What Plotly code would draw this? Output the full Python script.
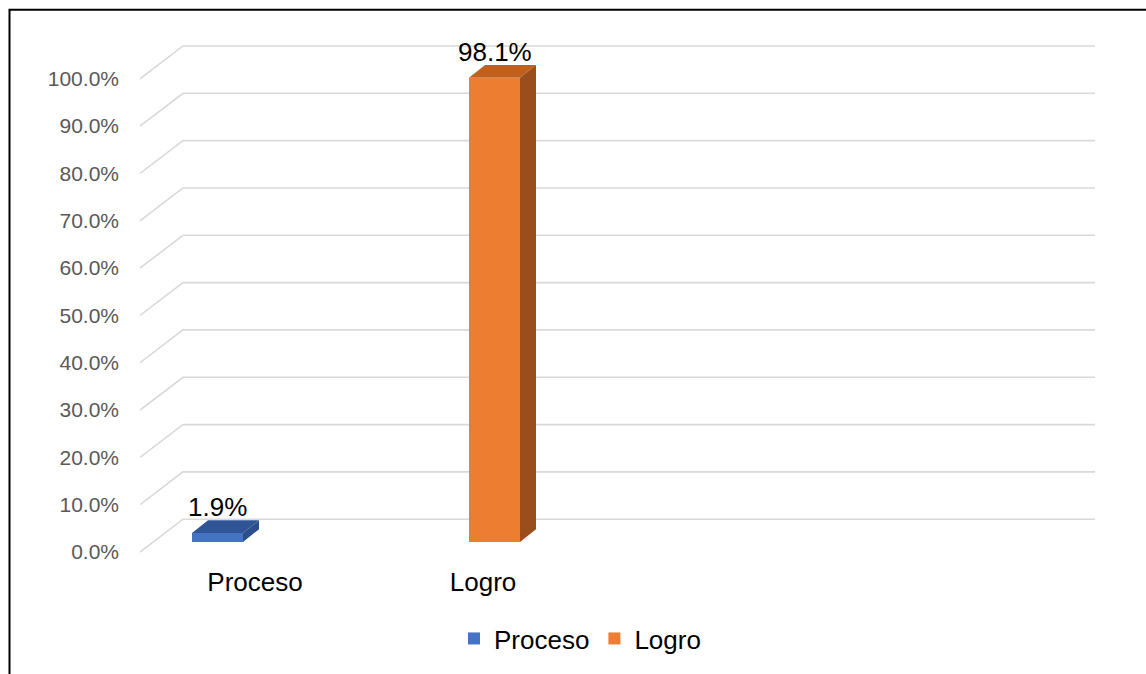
import plotly.graph_objects as go

# ---- data ----
categories = ["Proceso", "Logro"]
values = [1.9, 98.1]                      # percent
tick_values = [0, 10, 20, 30, 40, 50, 60, 70, 80, 90, 100]

# ---- styling ----
front_colors = ["#4472C4", "#ED7D31"]
top_colors = ["#2F5597", "#C0601F"]
side_colors = ["#2B4F8A", "#9A4E1C"]
grid_color = "#D9D9D9"

W, H = 1146, 674
PLOT_L, PLOT_R, PLOT_T, PLOT_B = 140, 1100, 40, 562   # plot area in pixels
PX_PER_PCT = 4.76                                      # vertical scale
FRONT_ZERO_PX = 555                                    # pixel row of 0% on the front plane

# floor depth (front edge -> back wall) in x units and percent units
DEPTH_X = 43
DEPTH_Y = 33 / PX_PER_PCT
# bars stand partway back on the floor and are shallower than the floor
BAR_BASE = 10 / PX_PER_PCT
BAR_SHIFT_X = 13
BAR_DEPTH_X = 16
BAR_DEPTH_Y = 13 / PX_PER_PCT
BAR_WIDTH = 51
FIRST_BAR_X = 204.5
BAR_SPACING = 277
GRID_RIGHT = 1095

y_min = (FRONT_ZERO_PX - PLOT_B) / PX_PER_PCT
y_max = (FRONT_ZERO_PX - PLOT_T) / PX_PER_PCT

fig = go.Figure()

# gridlines: diagonal on the side wall, then flat along the back wall
shapes = []
for v in tick_values:
    path = (f"M {PLOT_L},{v} L {PLOT_L + DEPTH_X},{v + DEPTH_Y} "
            f"L {GRID_RIGHT},{v + DEPTH_Y}")
    shapes.append(dict(type="path", path=path, xref="x", yref="y", layer="below",
                       line=dict(color=grid_color, width=1.6)))

# outer frame
shapes.append(dict(type="rect", xref="paper", yref="paper",
                   x0=(9.5 - PLOT_L) / (PLOT_R - PLOT_L), x1=1.3,
                   y0=-0.5, y1=(PLOT_B - 9.5) / (PLOT_B - PLOT_T),
                   line=dict(color="black", width=2), fillcolor="rgba(0,0,0,0)"))

annotations = []
for i, (cat, val) in enumerate(zip(categories, values)):
    xc = FIRST_BAR_X + BAR_SHIFT_X + i * BAR_SPACING
    xl, xr = xc - BAR_WIDTH / 2, xc + BAR_WIDTH / 2
    base = BAR_BASE
    top = base + val

    # front face
    fig.add_trace(go.Bar(
        x=[xc], y=[val], base=[base], width=[BAR_WIDTH], name=cat,
        marker=dict(color=front_colors[i], line=dict(width=0)),
        hoverinfo="skip",
    ))
    # top face
    fig.add_trace(go.Scatter(
        x=[xl, xr, xr + BAR_DEPTH_X, xl + BAR_DEPTH_X, xl],
        y=[top, top, top + BAR_DEPTH_Y, top + BAR_DEPTH_Y, top],
        fill="toself", fillcolor=top_colors[i], mode="lines",
        line=dict(width=0, color=top_colors[i]), showlegend=False, hoverinfo="skip",
    ))
    # side face
    fig.add_trace(go.Scatter(
        x=[xr, xr, xr + BAR_DEPTH_X, xr + BAR_DEPTH_X, xr],
        y=[base, top, top + BAR_DEPTH_Y, base + BAR_DEPTH_Y, base],
        fill="toself", fillcolor=side_colors[i], mode="lines",
        line=dict(width=0, color=side_colors[i]), showlegend=False, hoverinfo="skip",
    ))
    # value label
    annotations.append(dict(
        x=xc, y=top, xref="x", yref="y", text=f"{val:.1f}%", showarrow=False,
        yanchor="middle", yshift=26,
        font=dict(family="Liberation Sans, Arial, sans-serif", size=26, color="black"),
    ))

fig.update_layout(
    width=W, height=H,
    margin=dict(l=PLOT_L, r=W - PLOT_R, t=PLOT_T, b=H - PLOT_B, pad=0),
    paper_bgcolor="white", plot_bgcolor="white",
    showlegend=True,
    legend=dict(orientation="h", x=(580 - PLOT_L) / (PLOT_R - PLOT_L), xanchor="center",
                y=(PLOT_B - 642) / (PLOT_B - PLOT_T), yanchor="middle",
                font=dict(family="Liberation Sans, Arial, sans-serif", size=26, color="black"),
                itemwidth=30, traceorder="normal", bgcolor="rgba(0,0,0,0)"),
    xaxis=dict(range=[PLOT_L, PLOT_R], showgrid=False, zeroline=False, showline=False,
               tickmode="array", tickvals=[255, 483], ticktext=categories,
               ticks="", ticklabelstandoff=5,
               tickfont=dict(family="Liberation Sans, Arial, sans-serif", size=26, color="black")),
    yaxis=dict(range=[y_min, y_max], showgrid=False, zeroline=False, showline=False,
               tickmode="array", tickvals=tick_values,
               ticktext=[f"{v:.1f}%" for v in tick_values],
               ticks="", ticklabelstandoff=20,
               tickfont=dict(family="Liberation Sans, Arial, sans-serif", size=21, color="#595959")),
    shapes=shapes,
    annotations=annotations,
    bargap=0,
)

fig.write_html("out.html")
